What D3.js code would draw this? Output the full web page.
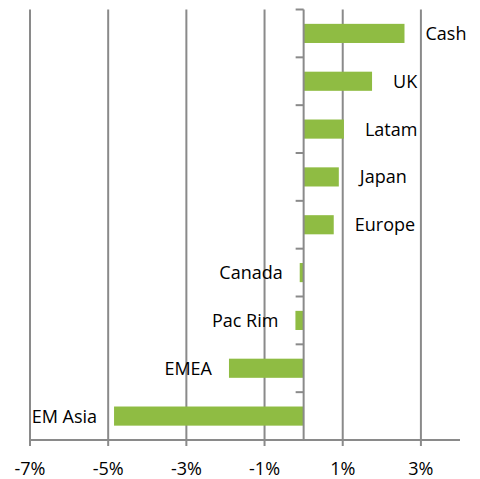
<!DOCTYPE html>
<html>
<head>
<meta charset="utf-8">
<script src="https://cdn.jsdelivr.net/npm/d3@7"></script>
<style>
  body { margin: 0; background: #fff; }
  svg text { font-family: "Open Sans", sans-serif; fill: #000; }
</style>
</head>
<body>
<svg id="chart" width="480" height="479"></svg>
<script>
// data
const regions = ["Cash", "UK", "Latam", "Japan", "Europe", "Canada", "Pac Rim", "EMEA", "EM Asia"];
const values = [2.58, 1.75, 1.03, 0.90, 0.77, -0.10, -0.21, -1.91, -4.85];
const xTicks = [-7, -5, -3, -1, 1, 3];

const margin = {top: 9.5, right: 20, bottom: 39, left: 30};
const width = 480 - margin.left - margin.right;
const height = 479 - margin.top - margin.bottom;
const gridColor = "#8a8a8a";
const barColor = "#8fbc43";

let svg = d3.select("#chart");
let g = svg.append("g").attr("transform", `translate(${margin.left},${margin.top})`);

let x = d3.scaleLinear().domain([-7, 4]).range([0, width]);
let y = d3.scaleBand().domain(regions).range([0, height]).paddingInner(0.6).paddingOuter(0.3);
let band = d3.scaleBand().domain(regions).range([0, height]); // for category ticks

// vertical gridlines (with little ticks below the axis)
g.selectAll(".grid")
  .data(xTicks)
  .enter()
  .append("line")
  .attr("x1", d => x(d)).attr("x2", d => x(d))
  .attr("y1", 0).attr("y2", height + 6)
  .attr("stroke", gridColor)
  .attr("stroke-width", 2);

// bottom axis line
g.append("line")
  .attr("x1", 0).attr("x2", width)
  .attr("y1", height).attr("y2", height)
  .attr("stroke", gridColor)
  .attr("stroke-width", 2);

// tick labels
g.selectAll(".xlab")
  .data(xTicks)
  .enter()
  .append("text")
  .attr("x", d => x(d))
  .attr("y", height + 35)
  .attr("text-anchor", "middle")
  .style("font-size", "18px")
  .text(d => d + "%");

// bars
g.selectAll(".bar")
  .data(values)
  .enter()
  .append("rect")
  .attr("x", d => x(Math.min(0, d)))
  .attr("y", (d, i) => y(regions[i]))
  .attr("width", d => Math.abs(x(d) - x(0)))
  .attr("height", y.bandwidth())
  .attr("fill", barColor);

// zero axis with category ticks
g.append("line")
  .attr("x1", x(0)).attr("x2", x(0))
  .attr("y1", 0).attr("y2", height)
  .attr("stroke", gridColor)
  .attr("stroke-width", 2);

let catTicks = regions.map(r => band(r)).concat([height]);
g.selectAll(".ctick")
  .data(catTicks)
  .enter()
  .append("line")
  .attr("x1", x(0) - 8).attr("x2", x(0))
  .attr("y1", d => d).attr("y2", d => d)
  .attr("stroke", gridColor)
  .attr("stroke-width", 2);

// labels next to bar ends
g.selectAll(".lab")
  .data(values)
  .enter()
  .append("text")
  .attr("x", d => d >= 0 ? x(d) + 21 : x(d) - 17)
  .attr("y", (d, i) => y(regions[i]) + y.bandwidth() / 2)
  .attr("dy", "0.36em")
  .attr("text-anchor", d => d >= 0 ? "start" : "end")
  .style("font-size", "18px")
  .text((d, i) => regions[i]);
</script>
</body>
</html>
